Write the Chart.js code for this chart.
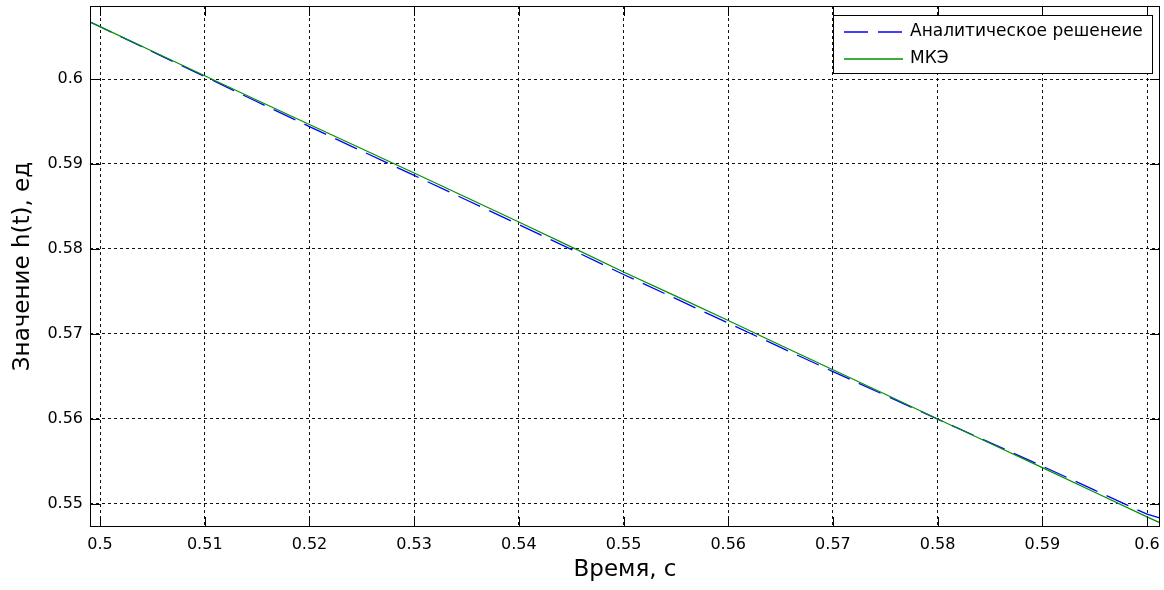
<!DOCTYPE html>
<html>
<head>
<meta charset="utf-8">
<script src="https://cdn.jsdelivr.net/npm/chart.js@4.4.1/dist/chart.umd.min.js"></script>
<style>
  html, body { margin: 0; padding: 0; background: #fff; }
  #wrap { width: 1164px; height: 590px; position: relative; }
</style>
</head>
<body>
<div id="wrap"><canvas id="myChart"></canvas></div>
<script>
// time, s
const timeValues = [0.499, 0.5, 0.505, 0.51, 0.515, 0.52, 0.525, 0.53, 0.535, 0.54, 0.545,
  0.55, 0.555, 0.56, 0.565, 0.57, 0.575, 0.58, 0.585, 0.59, 0.595, 0.6, 0.6012];
// analytic solution h(t)
const analyticValues = [0.60674, 0.60615, 0.60322, 0.60028, 0.59732, 0.59440, 0.59152, 0.58866,
  0.58576, 0.58288, 0.57995, 0.57700, 0.57415, 0.57128, 0.56842, 0.56558, 0.56278, 0.55998,
  0.55722, 0.55445, 0.55162, 0.54880, 0.54835];
// FEM (МКЭ)
const femValues = [0.60674, 0.60616, 0.60327, 0.60038, 0.59750, 0.59465, 0.59180, 0.58895,
  0.58605, 0.58318, 0.58025, 0.57730, 0.57445, 0.57158, 0.56868, 0.56580, 0.56290, 0.56000,
  0.55715, 0.55428, 0.55138, 0.54848, 0.54780];
const seriesNames = ['Аналитическое решенеие', 'МКЭ'];
const xTicks = [0.5, 0.51, 0.52, 0.53, 0.54, 0.55, 0.56, 0.57, 0.58, 0.59, 0.6];
const yTicks = [0.55, 0.56, 0.57, 0.58, 0.59, 0.6];

const FONT = 'DejaVu Sans';

const toPoints = (ys) => timeValues.map((t, i) => ({ x: t, y: ys[i] }));

// box round the axes, inward ticks and legend like matlab
const frame = {
  id: 'frame',
  afterDraw(chart) {
    const { ctx, chartArea: a, scales } = chart;
    const tl = 10;
    ctx.save();
    ctx.strokeStyle = '#000';
    ctx.lineWidth = 1;
    ctx.setLineDash([]);
    ctx.beginPath();
    xTicks.forEach(v => {
      const px = Math.round(scales.x.getPixelForValue(v)) + 0.5;
      ctx.moveTo(px, a.bottom); ctx.lineTo(px, a.bottom - tl);
      ctx.moveTo(px, a.top); ctx.lineTo(px, a.top + tl);
    });
    yTicks.forEach(v => {
      const py = Math.round(scales.y.getPixelForValue(v)) + 0.5;
      ctx.moveTo(a.left, py); ctx.lineTo(a.left + tl, py);
      ctx.moveTo(a.right, py); ctx.lineTo(a.right - tl, py);
    });
    ctx.stroke();
    ctx.strokeRect(Math.round(a.left) + 0.5, Math.round(a.top) + 0.5,
      Math.round(a.right - a.left) - 1, Math.round(a.bottom - a.top) - 1);

    // legend
    ctx.font = '17px "' + FONT + '"';
    const textW = Math.max(...chart.data.datasets.map(d => ctx.measureText(d.label).width));
    const w = Math.round(11 + 59 + 7 + textW + 9);
    const h = 58;
    const right = a.right - 8;
    const left = Math.round(right - w);
    const top = Math.round(a.top + 9);
    ctx.fillStyle = '#fff';
    ctx.fillRect(left, top, w, h);
    ctx.strokeRect(left + 0.5, top + 0.5, w, h);
    chart.data.datasets.forEach((d, i) => {
      const y = top + 17 + i * 27;
      ctx.save();
      ctx.strokeStyle = d.borderColor;
      ctx.lineWidth = 1.5;
      ctx.setLineDash(d.borderDash || []);
      ctx.beginPath();
      ctx.moveTo(left + 11, y);
      ctx.lineTo(left + 70, y);
      ctx.stroke();
      ctx.restore();
      ctx.fillStyle = '#000';
      ctx.textBaseline = 'middle';
      ctx.fillText(d.label, left + 77, y);
    });
    ctx.restore();
  }
};

const data = {
  datasets: [{
    label: seriesNames[0],
    data: toPoints(analyticValues),
    borderColor: 'rgb(0, 0, 255)',
    borderWidth: 1.3,
    borderDash: [24, 10],
    pointRadius: 0,
    tension: 0,
    order: 1
  }, {
    label: seriesNames[1],
    data: toPoints(femValues),
    borderColor: 'rgb(0, 145, 0)',
    borderWidth: 1.2,
    pointRadius: 0,
    tension: 0,
    order: 0
  }]
};

const config = {
  type: 'line',
  data: data,
  options: {
    responsive: true,
    maintainAspectRatio: false,
    animation: false,
    layout: {
      padding: { top: 6, right: 4, left: 0, bottom: 0 }
    },
    plugins: {
      legend: { display: false },
      tooltip: { enabled: false }
    },
    scales: {
      x: {
        type: 'linear',
        min: 0.49904,
        max: 0.60124,
        afterBuildTicks: (axis) => { axis.ticks = xTicks.map(v => ({ value: v })); },
        afterFit: (axis) => {
          axis.height = 63;
          axis.paddingLeft = 0;
          axis.paddingRight = 0;
        },
        grid: { color: '#111', lineWidth: 1, drawTicks: false },
        border: { display: false, dash: [3, 3] },
        ticks: {
          color: '#000',
          padding: 8,
          maxRotation: 0,
          font: { family: FONT, size: 16 },
          callback: (v) => String(Number(v.toFixed(2)))
        },
        title: {
          display: true,
          text: 'Время, с',
          color: '#000',
          font: { family: FONT, size: 23 },
          padding: { top: 0, bottom: 6 }
        }
      },
      y: {
        type: 'linear',
        min: 0.54729,
        max: 0.60859,
        afterBuildTicks: (axis) => { axis.ticks = yTicks.map(v => ({ value: v })); },
        afterFit: (axis) => {
          axis.width = 90;
          axis.paddingTop = 0;
          axis.paddingBottom = 0;
        },
        grid: { color: '#111', lineWidth: 1, drawTicks: false },
        border: { display: false, dash: [3, 3] },
        ticks: {
          color: '#000',
          padding: 7,
          font: { family: FONT, size: 16 },
          callback: (v) => String(Number(v.toFixed(2)))
        },
        title: {
          display: true,
          text: 'Значение h(t), ед',
          color: '#000',
          font: { family: FONT, size: 23 },
          padding: { top: 9, bottom: 0 }
        }
      }
    }
  },
  plugins: [frame]
};

const myChart = new Chart(document.getElementById('myChart'), config);
</script>
</body>
</html>
